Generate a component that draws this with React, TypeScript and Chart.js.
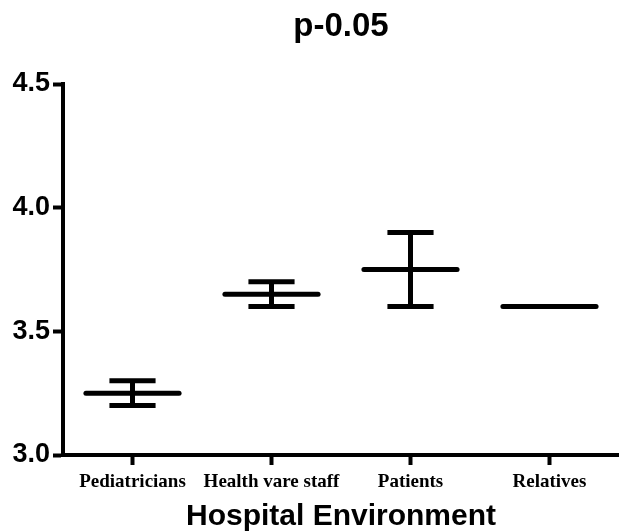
import React, { useEffect, useRef } from "react";
import { Chart, registerables } from "chart.js";

Chart.register(...registerables);

const categories = ["Pediatricians", "Health vare staff", "Patients", "Relatives"];
const means = [3.25, 3.65, 3.75, 3.6];
const lowers = [3.2, 3.6, 3.6, 3.6];
const uppers = [3.3, 3.7, 3.9, 3.6];
const yMin = 3.0;
const yMax = 4.5;
const yStep = 0.5;
const chartTitle = "p-0.05";
const xTitle = "Hospital Environment";

const errorBarPlugin = {
  id: "errorBars",
  afterDatasetsDraw(chart: any) {
    const { ctx, scales } = chart;
    const x = scales.x;
    const y = scales.y;
    const catW = x.width / categories.length;
    ctx.save();
    ctx.strokeStyle = "#000";
    ctx.lineWidth = 5;
    categories.forEach((_, i) => {
      const cx = x.getPixelForValue(i);
      const yl = y.getPixelForValue(lowers[i]);
      const yu = y.getPixelForValue(uppers[i]);
      const ym = y.getPixelForValue(means[i]);
      if (uppers[i] !== lowers[i]) {
        const hw = catW * 0.166;
        ctx.lineCap = "butt";
        ctx.beginPath();
        ctx.moveTo(cx, yl);
        ctx.lineTo(cx, yu);
        ctx.moveTo(cx - hw, yl);
        ctx.lineTo(cx + hw, yl);
        ctx.moveTo(cx - hw, yu);
        ctx.lineTo(cx + hw, yu);
        ctx.stroke();
      }
      const mw = catW * 0.335;
      ctx.lineCap = "round";
      ctx.beginPath();
      ctx.moveTo(cx - mw, ym);
      ctx.lineTo(cx + mw, ym);
      ctx.stroke();
    });
    ctx.restore();
  },
};

export default function App() {
  const ref = useRef<HTMLCanvasElement>(null);
  useEffect(() => {
    if (!ref.current) return;
    const chart = new Chart(ref.current, {
      type: "line",
      data: {
        labels: categories,
        datasets: [
          {
            data: means,
            showLine: false,
            pointRadius: 0,
            borderColor: "#000",
            backgroundColor: "#000",
          },
        ],
      },
      options: {
        responsive: false,
        animation: false,
        layout: { padding: { left: 0, right: 0, top: 0, bottom: 0 } },
        plugins: {
          legend: { display: false },
          tooltip: { enabled: false },
          title: {
            display: true,
            text: chartTitle,
            fullSize: false,
            color: "#000",
            font: { family: "Liberation Sans", size: 33, weight: "bold", lineHeight: 1 },
            padding: { top: 10, bottom: 41 },
          },
        },
        scales: {
          x: {
            type: "category",
            offset: true,
            grid: {
              display: true,
              offset: false,
              drawOnChartArea: false,
              drawTicks: true,
              tickLength: 10,
              tickWidth: 4,
              color: "#000",
            },
            border: { display: true, color: "#000", width: 4 },
            ticks: {
              color: "#000",
              padding: 6,
              maxRotation: 0,
              autoSkip: false,
              font: { family: "Liberation Serif", size: 19, weight: "bold" },
            },
            title: {
              display: true,
              text: xTitle,
              color: "#000",
              font: { family: "Liberation Sans", size: 30, weight: "bold", lineHeight: 1 },
              padding: { top: 0, bottom: 0 },
            },
            afterFit: (s: any) => {
              s.height = 77;
            },
          },
          y: {
            min: yMin,
            max: yMax,
            grid: {
              display: true,
              drawOnChartArea: false,
              drawTicks: true,
              tickLength: 10,
              tickWidth: 4,
              color: "#000",
            },
            border: { display: true, color: "#000", width: 4 },
            ticks: {
              stepSize: yStep,
              color: "#000",
              padding: 3,
              font: { family: "Liberation Sans", size: 27, weight: "bold" },
              callback: (v: any) => Number(v).toFixed(1),
            },
            afterFit: (s: any) => {
              s.width = 63;
            },
          },
        },
      },
      plugins: [errorBarPlugin],
    });
    return () => chart.destroy();
  }, []);
  return (
    <canvas
      ref={ref}
      width={619}
      height={532}
      style={{ position: "absolute", left: 0, top: 0, width: 619, height: 532 }}
    />
  );
}
